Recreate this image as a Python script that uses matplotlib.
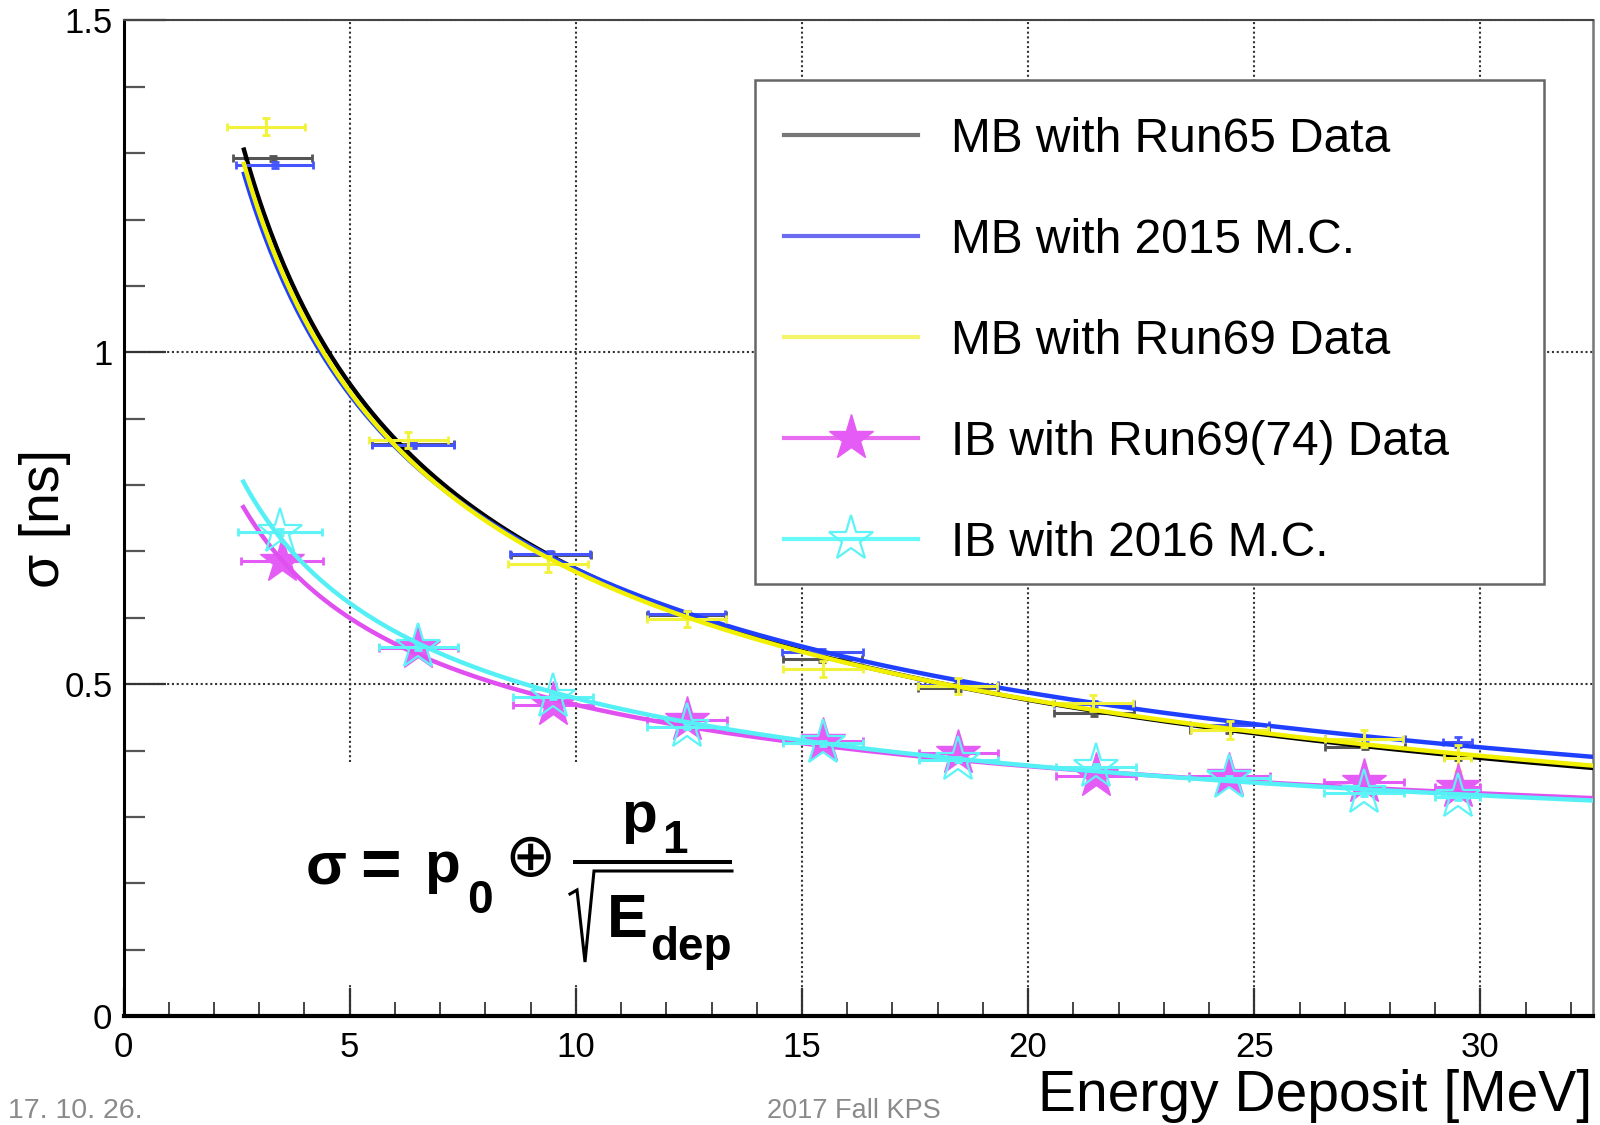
import numpy as np
import matplotlib
matplotlib.use("Agg")
import matplotlib.pyplot as plt
from matplotlib.lines import Line2D
from matplotlib.patches import Rectangle
from matplotlib.ticker import MultipleLocator

plt.rcParams['font.family'] = ['Liberation Sans', 'DejaVu Sans']

# ---------------- data ----------------
series_labels = ["MB with Run65 Data", "MB with 2015 M.C.", "MB with Run69 Data",
                 "IB with Run69(74) Data", "IB with 2016 M.C."]

xtick_values = [0, 5, 10, 15, 20, 25, 30]
xtick_labels = ["0", "5", "10", "15", "20", "25", "30"]
ytick_values = [0, 0.5, 1, 1.5]
ytick_labels = ["0", "0.5", "1", "1.5"]

# MB with Run65 Data
mb65_x = [3.30, 6.40, 9.45, 12.45, 15.45, 18.45, 21.45, 24.45, 27.45, 29.50]
mb65_xerr = [0.87, 0.90, 0.88, 0.88, 0.88, 0.88, 0.88, 0.88, 0.88, 0.30]
mb65_y = [1.292, 0.862, 0.695, 0.604, 0.538, 0.494, 0.456, 0.431, 0.406, 0.390]
mb65_yerr = [0.004, 0.004, 0.004, 0.004, 0.004, 0.004, 0.004, 0.004, 0.004, 0.004]

# MB with 2015 M.C.
mbmc_x = [3.34, 6.40, 9.43, 12.45, 15.45, 18.45, 21.45, 24.45, 27.45, 29.50]
mbmc_xerr = [0.85, 0.90, 0.88, 0.85, 0.89, 0.88, 0.88, 0.88, 0.88, 0.32]
mbmc_y = [1.282, 0.860, 0.696, 0.606, 0.549, 0.499, 0.470, 0.438, 0.417, 0.413]
mbmc_yerr = [0.004, 0.004, 0.004, 0.004, 0.004, 0.004, 0.004, 0.004, 0.004, 0.008]

# MB with Run69 Data
mb69_x = [3.15, 6.30, 9.38, 12.45, 15.47, 18.44, 21.43, 24.46, 27.42, 29.50]
mb69_xerr = [0.86, 0.88, 0.88, 0.88, 0.88, 0.88, 0.88, 0.85, 0.86, 0.30]
mb69_y = [1.340, 0.868, 0.681, 0.598, 0.523, 0.497, 0.471, 0.431, 0.418, 0.389]
mb69_yerr = [0.013, 0.012, 0.012, 0.012, 0.012, 0.012, 0.012, 0.013, 0.013, 0.020]

# IB with Run69(74) Data
ibd_x = [3.50, 6.52, 9.50, 12.46, 15.47, 18.46, 21.50, 24.45, 27.42, 29.50]
ibd_xerr = [0.91, 0.87, 0.88, 0.88, 0.88, 0.88, 0.88, 0.90, 0.88, 0.50]
ibd_y = [0.686, 0.555, 0.469, 0.446, 0.415, 0.396, 0.361, 0.362, 0.352, 0.345]
ibd_yerr = [0.004, 0.004, 0.004, 0.004, 0.004, 0.004, 0.004, 0.004, 0.004, 0.004]

# IB with 2016 M.C.
ibmc_x = [3.46, 6.52, 9.50, 12.46, 15.47, 18.46, 21.50, 24.45, 27.42, 29.50]
ibmc_xerr = [0.92, 0.87, 0.88, 0.88, 0.88, 0.88, 0.88, 0.90, 0.88, 0.50]
ibmc_y = [0.729, 0.556, 0.481, 0.436, 0.411, 0.386, 0.375, 0.358, 0.336, 0.330]
ibmc_yerr = [0.004, 0.004, 0.004, 0.004, 0.004, 0.004, 0.004, 0.004, 0.004, 0.004]

# fit parameters  sigma = p0 + p1/sqrt(E)
fit_p0 = [0.000, 0.038, 0.0135, 0.153, 0.1326]
fit_p1 = [2.130, 2.009, 2.073, 0.999, 1.0946]
fit_emin = 2.65
fit_emax = 32.5

# ---------------- styles ----------------
bar_colors = ['#555555', '#4455ff', '#f2f23a', '#e45cf5', '#5ef3f7']
fit_colors = ['#000000', '#2040ff', '#f0f000', '#e050f0', '#55f0f5']
leg_colors = ['#777777', '#6b6bf0', '#f5f56b', '#e86cf0', '#66fafa']

W, H = 1600, 1125
fig = plt.figure(figsize=(16, 11.25), dpi=100)
ax = fig.add_axes([123.5 / W, 109 / H, 1470 / W, 995.6 / H])
ax.set_xlim(0, 32.5)
ax.set_ylim(0, 1.5)

ax.set_xticks(xtick_values, labels=xtick_labels)
ax.set_yticks(ytick_values, labels=ytick_labels)
ax.xaxis.set_minor_locator(MultipleLocator(1))
ax.yaxis.set_minor_locator(MultipleLocator(0.1))
ax.tick_params(axis='x', which='major', direction='in', length=20, width=1.6,
               color='#333333', pad=11, labelsize=25)
ax.tick_params(axis='x', which='minor', direction='in', length=10, width=1.4,
               color='#444444')
ax.tick_params(axis='y', which='major', direction='in', length=30, width=1.6,
               color='#333333', pad=8, labelsize=25)
ax.tick_params(axis='y', which='minor', direction='in', length=15, width=1.6,
               color='#555555')

for s, lw, c in [('left', 2.2, 'black'), ('bottom', 3.0, 'black'),
                 ('top', 1.5, '#444444'), ('right', 1.8, '#777777')]:
    ax.spines[s].set_linewidth(lw)
    ax.spines[s].set_color(c)

ax.grid(True, which='major', linestyle=(0, (1, 1.3)), linewidth=1.5, color='#333333')

# white box behind the formula
ax.add_patch(Rectangle((2.0, 0.046), 11.0, 0.337, facecolor='white',
                       edgecolor='none', zorder=1.6))

Efit = np.linspace(fit_emin, fit_emax, 400)

mb_sets = [(mb65_x, mb65_xerr, mb65_y, mb65_yerr),
           (mbmc_x, mbmc_xerr, mbmc_y, mbmc_yerr),
           (mb69_x, mb69_xerr, mb69_y, mb69_yerr)]
z = 3
for i, (x, xe, y, ye) in enumerate(mb_sets):
    ax.errorbar(x, y, xerr=xe, yerr=ye, fmt='none', ecolor=bar_colors[i],
                elinewidth=2.2, capsize=3, capthick=2, zorder=z)
    ax.plot(Efit, fit_p0[i] + fit_p1[i] / np.sqrt(Efit), color=fit_colors[i],
            lw=3.2, zorder=z + 1, solid_capstyle='butt')
    z += 2

ib_sets = [(ibd_x, ibd_xerr, ibd_y, ibd_yerr, True),
           (ibmc_x, ibmc_xerr, ibmc_y, ibmc_yerr, False)]
for j, (x, xe, y, ye, filled) in enumerate(ib_sets):
    i = 3 + j
    ax.errorbar(x, y, xerr=xe, yerr=ye, fmt='none', ecolor=bar_colors[i],
                elinewidth=2.2, capsize=3, capthick=2, zorder=z)
    if filled:
        ax.plot(x, y, ls='none', marker='*', ms=34, mfc=bar_colors[i],
                mec=bar_colors[i], mew=1.0, zorder=z)
    else:
        ax.plot(x, y, ls='none', marker='*', ms=34, mfc='none',
                mec=bar_colors[i], mew=1.6, zorder=z)
    ax.plot(Efit, fit_p0[i] + fit_p1[i] / np.sqrt(Efit), color=fit_colors[i],
            lw=3.2, zorder=z + 1)
    z += 2

# axis labels
ax.set_xlabel('Energy Deposit [MeV]', fontsize=41, ha='right', va='baseline')
ax.xaxis.set_label_coords((1592 - 123.5) / 1470, (1016 - 1111) / 995.6)
ax.set_ylabel('σ [ns]', fontsize=40, va='center')
ax.yaxis.set_label_coords((45 - 123.5) / 1470, 0.5)

# legend frame (drawn separately) and legend entries
ax.add_patch(Rectangle((755 / W, 1 - 584 / H), (1544 - 755) / W, (584 - 80) / H,
                       transform=fig.transFigure, facecolor='white',
                       edgecolor='#666666', linewidth=1.8, zorder=19))
handles = [
    Line2D([], [], color=leg_colors[0], lw=3),
    Line2D([], [], color=leg_colors[1], lw=3),
    Line2D([], [], color=leg_colors[2], lw=3),
    Line2D([], [], color=leg_colors[3], lw=3, marker='*', ms=34,
           mfc=bar_colors[3], mec=bar_colors[3]),
    Line2D([], [], color=leg_colors[4], lw=3, marker='*', ms=34,
           mfc='none', mec=bar_colors[4], mew=1.6),
]
leg = ax.legend(handles, series_labels, loc='upper left',
                bbox_to_anchor=(762 / W, 1 - 95 / H),
                bbox_transform=fig.transFigure, borderaxespad=0,
                fontsize=34.5, handlelength=2.8, handletextpad=0.7,
                labelspacing=1.17, borderpad=0.45, numpoints=1,
                frameon=False)
leg.set_zorder(20)


# formula
def ftext(x, y, s, **kw):
    fig.text(x / W, 1 - y / H, s, **kw)


def fline(xs, ys, **kw):
    fig.add_artist(Line2D([v / W for v in xs], [1 - v / H for v in ys],
                          transform=fig.transFigure, **kw))


bold = dict(fontweight='bold', ha='left', va='baseline')
ftext(306, 883, 'σ', fontsize=43, **bold)
ftext(360, 887, '=', fontsize=50, **bold)
ftext(424, 882, 'p', fontsize=42, **bold)
ftext(467, 913, '0', fontsize=33, **bold)
ftext(504, 876, '⊕', fontsize=44, ha='left', va='baseline',
      family=['DejaVu Sans'])
fline([573, 732], [861.5, 861.5], color='black', lw=2.9, solid_capstyle='butt')
ftext(621, 832, 'p', fontsize=42, **bold)
ftext(662, 853, '1', fontsize=33, **bold)
fline([570, 577, 585, 594, 732], [894, 890, 962, 871, 871], color='black',
      lw=2.2, solid_joinstyle='miter')
ftext(607, 937, 'E', fontsize=44, **bold)
ftext(650, 960, 'dep', fontsize=33, **bold)

# footer
ftext(8, 1118, '17. 10. 26.', fontsize=20.5, color='#8a8a8a', ha='left', va='baseline')
ftext(767, 1118, '2017 Fall KPS', fontsize=19.5, color='#8a8a8a', ha='left', va='baseline')

fig.savefig('out.png', dpi=100)
